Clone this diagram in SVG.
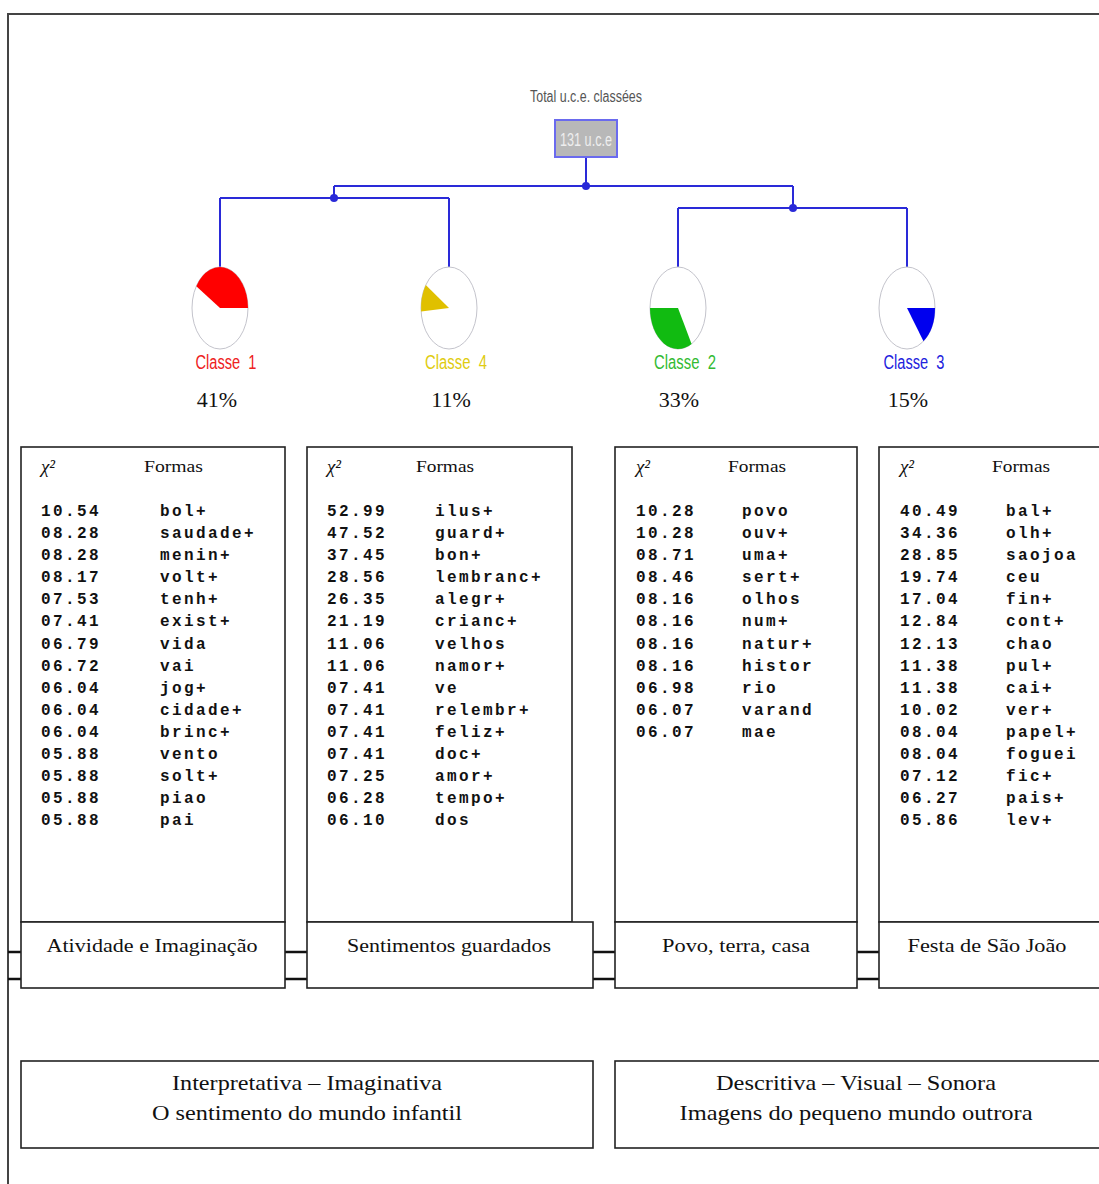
<svg xmlns="http://www.w3.org/2000/svg" width="1099" height="1184" viewBox="0 0 1099 1184">
<style>
.frame{fill:none;stroke:#444;stroke-width:2}
.box{fill:#fff;stroke:#222;stroke-width:1.6}
.dbl{stroke:#111;stroke-width:2.5}
.tree{fill:none;stroke:#2a2ad8;stroke-width:2}
.dot{fill:#2a2ad8}
.pie{fill:#fff;stroke:#c4c4cc;stroke-width:1}
.cls{font-family:"Liberation Sans",Arial,sans-serif;font-size:20px;text-anchor:middle;white-space:pre}
.pct{font-family:"Liberation Serif","Times New Roman",serif;font-size:22px;fill:#111;text-anchor:middle}
.hd{font-family:"Liberation Serif","Times New Roman",serif;font-size:17px;fill:#111}
.chi{font-family:"Liberation Serif","Times New Roman",serif;font-size:19px;font-style:italic;fill:#111}
.mono{font-family:"Liberation Mono","Courier New",monospace;font-size:16px;font-weight:bold;letter-spacing:2.4px;fill:#111}
.lbl{font-family:"Liberation Serif","Times New Roman",serif;font-size:19px;fill:#111;text-anchor:middle}
.big{font-family:"Liberation Serif","Times New Roman",serif;font-size:21px;fill:#111;text-anchor:middle}
</style>
<rect width="1099" height="1184" fill="#fff"/>
<path class="frame" d="M8,1184 V14 H1099"/>

<g id="connectors">
<path class="tree" d="M586,157 V186 M334,186 H793 M334,186 V198 M220,198 H449 M220,198 V267 M449,198 V267 M793,186 V208 M678,208 H907 M678,208 V267 M907,208 V267"/>
<circle class="dot" cx="586" cy="186" r="4"/>
<circle class="dot" cx="334" cy="198" r="4"/>
<circle class="dot" cx="793" cy="208" r="4"/>
<path class="dbl" d="M8,952 H21 M8,979 H21 M285,952 H307 M285,979 H307 M593,952 H615 M593,979 H615 M857,952 H879 M857,979 H879"/>
</g>

<g id="root">
<text x="586" y="102" font-family="'Liberation Sans',Arial,sans-serif" font-size="16" fill="#555" text-anchor="middle" textLength="112" lengthAdjust="spacingAndGlyphs">Total u.c.e. classées</text>
<rect x="555" y="120" width="62" height="37" fill="#b8b8b8" stroke="#6a6aee" stroke-width="2"/>
<text x="586" y="146" font-family="'Liberation Sans',Arial,sans-serif" font-size="18" fill="#eeeeee" text-anchor="middle" textLength="52" lengthAdjust="spacingAndGlyphs">131 u.c.e</text>
</g>

<g id="classe1">
<ellipse class="pie" cx="220" cy="308" rx="28" ry="41"/>
<path d="M220,308 L248,308 A28,41 0 0,0 196.3,286.3 Z" fill="#ff0000"/>
<text class="cls" x="226" y="369" fill="#ee2222" textLength="61" lengthAdjust="spacingAndGlyphs">Classe  1</text>
<text class="pct" x="217" y="407">41%</text>
</g>
<g id="classe4">
<ellipse class="pie" cx="449" cy="308" rx="28" ry="41"/>
<path d="M449,308 L421.1,311.6 A28,41 0 0,1 425.8,285.1 Z" fill="#e0c000"/>
<text class="cls" x="456" y="369" fill="#e0cc10" textLength="62" lengthAdjust="spacingAndGlyphs">Classe  4</text>
<text class="pct" x="451" y="407">11%</text>
</g>
<g id="classe2">
<ellipse class="pie" cx="678" cy="308" rx="28" ry="41"/>
<path d="M678,308 L650,308 A28,41 0 0,0 691.6,343.9 Z" fill="#11bb11"/>
<text class="cls" x="685" y="369" fill="#33bb33" textLength="62" lengthAdjust="spacingAndGlyphs">Classe  2</text>
<text class="pct" x="679" y="407">33%</text>
</g>
<g id="classe3">
<ellipse class="pie" cx="907" cy="308" rx="28" ry="41"/>
<path d="M907,308 L935,308 A28,41 0 0,1 923.5,341.2 Z" fill="#0000ee"/>
<text class="cls" x="914" y="369" fill="#2222dd" textLength="61" lengthAdjust="spacingAndGlyphs">Classe  3</text>
<text class="pct" x="908" y="407">15%</text>
</g>

<g id="table1">
<rect class="box" x="21" y="447" width="264" height="475"/>
<rect class="box" x="21" y="922" width="264" height="66"/>
<text class="chi" x="41" y="473">χ²</text>
<text class="hd" x="144" y="472" textLength="59" lengthAdjust="spacingAndGlyphs">Formas</text>
<text class="mono" x="41" y="516">10.54</text><text class="mono" x="160" y="516">bol+</text>
<text class="mono" x="41" y="538">08.28</text><text class="mono" x="160" y="538">saudade+</text>
<text class="mono" x="41" y="560">08.28</text><text class="mono" x="160" y="560">menin+</text>
<text class="mono" x="41" y="582">08.17</text><text class="mono" x="160" y="582">volt+</text>
<text class="mono" x="41" y="604">07.53</text><text class="mono" x="160" y="604">tenh+</text>
<text class="mono" x="41" y="626">07.41</text><text class="mono" x="160" y="626">exist+</text>
<text class="mono" x="41" y="649">06.79</text><text class="mono" x="160" y="649">vida</text>
<text class="mono" x="41" y="671">06.72</text><text class="mono" x="160" y="671">vai</text>
<text class="mono" x="41" y="693">06.04</text><text class="mono" x="160" y="693">jog+</text>
<text class="mono" x="41" y="715">06.04</text><text class="mono" x="160" y="715">cidade+</text>
<text class="mono" x="41" y="737">06.04</text><text class="mono" x="160" y="737">brinc+</text>
<text class="mono" x="41" y="759">05.88</text><text class="mono" x="160" y="759">vento</text>
<text class="mono" x="41" y="781">05.88</text><text class="mono" x="160" y="781">solt+</text>
<text class="mono" x="41" y="803">05.88</text><text class="mono" x="160" y="803">piao</text>
<text class="mono" x="41" y="825">05.88</text><text class="mono" x="160" y="825">pai</text>
<text class="lbl" x="152" y="952" textLength="211" lengthAdjust="spacingAndGlyphs">Atividade e Imaginação</text>
</g>

<g id="table2">
<rect class="box" x="307" y="447" width="265" height="475"/>
<rect class="box" x="307" y="922" width="286" height="66"/>
<text class="chi" x="327" y="473">χ²</text>
<text class="hd" x="416" y="472" textLength="58" lengthAdjust="spacingAndGlyphs">Formas</text>
<text class="mono" x="327" y="516">52.99</text><text class="mono" x="435" y="516">ilus+</text>
<text class="mono" x="327" y="538">47.52</text><text class="mono" x="435" y="538">guard+</text>
<text class="mono" x="327" y="560">37.45</text><text class="mono" x="435" y="560">bon+</text>
<text class="mono" x="327" y="582">28.56</text><text class="mono" x="435" y="582">lembranc+</text>
<text class="mono" x="327" y="604">26.35</text><text class="mono" x="435" y="604">alegr+</text>
<text class="mono" x="327" y="626">21.19</text><text class="mono" x="435" y="626">crianc+</text>
<text class="mono" x="327" y="649">11.06</text><text class="mono" x="435" y="649">velhos</text>
<text class="mono" x="327" y="671">11.06</text><text class="mono" x="435" y="671">namor+</text>
<text class="mono" x="327" y="693">07.41</text><text class="mono" x="435" y="693">ve</text>
<text class="mono" x="327" y="715">07.41</text><text class="mono" x="435" y="715">relembr+</text>
<text class="mono" x="327" y="737">07.41</text><text class="mono" x="435" y="737">feliz+</text>
<text class="mono" x="327" y="759">07.41</text><text class="mono" x="435" y="759">doc+</text>
<text class="mono" x="327" y="781">07.25</text><text class="mono" x="435" y="781">amor+</text>
<text class="mono" x="327" y="803">06.28</text><text class="mono" x="435" y="803">tempo+</text>
<text class="mono" x="327" y="825">06.10</text><text class="mono" x="435" y="825">dos</text>
<text class="lbl" x="449" y="952" textLength="204" lengthAdjust="spacingAndGlyphs">Sentimentos guardados</text>
</g>

<g id="table3">
<rect class="box" x="615" y="447" width="242" height="475"/>
<rect class="box" x="615" y="922" width="242" height="66"/>
<text class="chi" x="636" y="473">χ²</text>
<text class="hd" x="728" y="472" textLength="58" lengthAdjust="spacingAndGlyphs">Formas</text>
<text class="mono" x="636" y="516">10.28</text><text class="mono" x="742" y="516">povo</text>
<text class="mono" x="636" y="538">10.28</text><text class="mono" x="742" y="538">ouv+</text>
<text class="mono" x="636" y="560">08.71</text><text class="mono" x="742" y="560">uma+</text>
<text class="mono" x="636" y="582">08.46</text><text class="mono" x="742" y="582">sert+</text>
<text class="mono" x="636" y="604">08.16</text><text class="mono" x="742" y="604">olhos</text>
<text class="mono" x="636" y="626">08.16</text><text class="mono" x="742" y="626">num+</text>
<text class="mono" x="636" y="649">08.16</text><text class="mono" x="742" y="649">natur+</text>
<text class="mono" x="636" y="671">08.16</text><text class="mono" x="742" y="671">histor</text>
<text class="mono" x="636" y="693">06.98</text><text class="mono" x="742" y="693">rio</text>
<text class="mono" x="636" y="715">06.07</text><text class="mono" x="742" y="715">varand</text>
<text class="mono" x="636" y="737">06.07</text><text class="mono" x="742" y="737">mae</text>
<text class="lbl" x="736" y="952" textLength="148" lengthAdjust="spacingAndGlyphs">Povo, terra, casa</text>
</g>

<g id="table4">
<rect class="box" x="879" y="447" width="240" height="475"/>
<rect class="box" x="879" y="922" width="240" height="66"/>
<text class="chi" x="900" y="473">χ²</text>
<text class="hd" x="992" y="472" textLength="58" lengthAdjust="spacingAndGlyphs">Formas</text>
<text class="mono" x="900" y="516">40.49</text><text class="mono" x="1006" y="516">bal+</text>
<text class="mono" x="900" y="538">34.36</text><text class="mono" x="1006" y="538">olh+</text>
<text class="mono" x="900" y="560">28.85</text><text class="mono" x="1006" y="560">saojoa</text>
<text class="mono" x="900" y="582">19.74</text><text class="mono" x="1006" y="582">ceu</text>
<text class="mono" x="900" y="604">17.04</text><text class="mono" x="1006" y="604">fin+</text>
<text class="mono" x="900" y="626">12.84</text><text class="mono" x="1006" y="626">cont+</text>
<text class="mono" x="900" y="649">12.13</text><text class="mono" x="1006" y="649">chao</text>
<text class="mono" x="900" y="671">11.38</text><text class="mono" x="1006" y="671">pul+</text>
<text class="mono" x="900" y="693">11.38</text><text class="mono" x="1006" y="693">cai+</text>
<text class="mono" x="900" y="715">10.02</text><text class="mono" x="1006" y="715">ver+</text>
<text class="mono" x="900" y="737">08.04</text><text class="mono" x="1006" y="737">papel+</text>
<text class="mono" x="900" y="759">08.04</text><text class="mono" x="1006" y="759">foguei</text>
<text class="mono" x="900" y="781">07.12</text><text class="mono" x="1006" y="781">fic+</text>
<text class="mono" x="900" y="803">06.27</text><text class="mono" x="1006" y="803">pais+</text>
<text class="mono" x="900" y="825">05.86</text><text class="mono" x="1006" y="825">lev+</text>
<text class="lbl" x="987" y="952" textLength="159" lengthAdjust="spacingAndGlyphs">Festa de São João</text>
</g>

<g id="group-left">
<rect class="box" x="21" y="1061" width="572" height="87"/>
<text class="big" x="307" y="1090" textLength="270" lengthAdjust="spacingAndGlyphs">Interpretativa – Imaginativa</text>
<text class="big" x="307" y="1120" textLength="310" lengthAdjust="spacingAndGlyphs">O sentimento do mundo infantil</text>
</g>
<g id="group-right">
<rect class="box" x="615" y="1061" width="500" height="87"/>
<text class="big" x="856" y="1090" textLength="280" lengthAdjust="spacingAndGlyphs">Descritiva – Visual – Sonora</text>
<text class="big" x="856" y="1120" textLength="353" lengthAdjust="spacingAndGlyphs">Imagens do pequeno mundo outrora</text>
</g>
</svg>
